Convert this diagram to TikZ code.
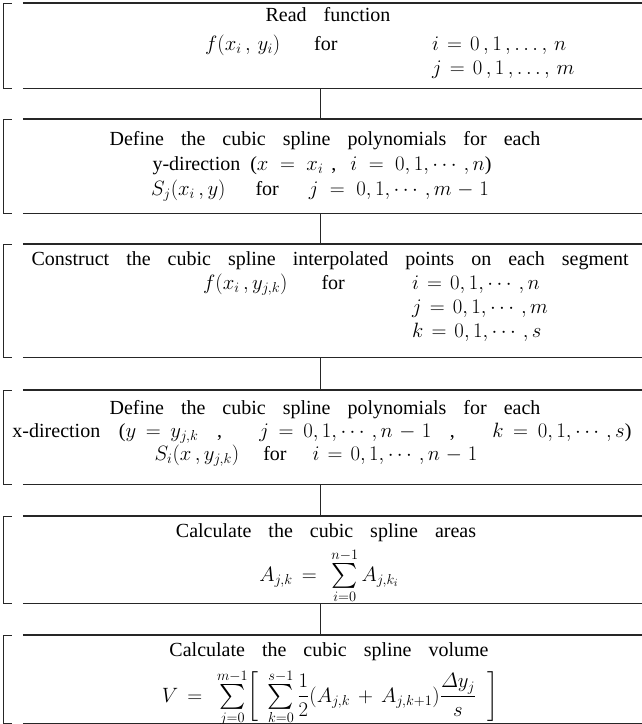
\documentclass[tikz,border=0pt]{standalone}
\usepackage{fontspec}
\setmainfont{Liberation Serif}
\usepackage{amsmath}
\usepackage{graphicx}
\newcommand\mybxframe[1]{%
  \draw[brk] ([xshift=8pt]#1.north west) -- (#1.north west) -- (#1.south west) -- ([xshift=8pt]#1.south west);
  \draw[hrule] ([xshift=19pt]#1.north west) -- ([xshift=30pt]#1.north east);
  \draw[hrule] ([xshift=19pt]#1.south west) -- ([xshift=30pt]#1.south east);}
\newcommand\mybigsum{\mathop{\vcenter{\hbox{\scalebox{1.2}{$\textstyle\sum$}}}}}
\newcommand\mytxtsetup{\fontsize{20}{24}\selectfont
  \spaceskip=0.85em plus 0.3em minus 0.1em\relax
  \thickmuskip=7mu plus 5mu\relax
  \medmuskip=5mu plus 2mu\relax}
\newcommand\myformsetup{\fontsize{22}{26}\selectfont
  \thickmuskip=8mu plus 5mu\relax
  \medmuskip=7mu plus 2mu\relax}
\newcommand\mybigmath[1]{{\fontsize{22}{26}\selectfont\thickmuskip=10mu\relax$#1$}}
\begin{document}
\begin{tikzpicture}[x=1pt,y=-1pt,
  txt/.style={inner sep=0pt,font=\mytxtsetup},
  form/.style={inner sep=0pt,font=\myformsetup},
  box/.style={draw=none,minimum width=632pt,inner sep=0pt,anchor=north},
  hrule/.style={line width=1.3pt,black!85},
  brk/.style={line width=0.9pt,black!85},
  conn/.style={line width=0.8pt,black!85}]
\useasboundingbox (0,0) rectangle (641,724);
% boxes
\node[box,minimum height=85pt] (b1) at (320,3) {};
\node[box,minimum height=94pt] (b2) at (320,119) {};
\node[box,minimum height=113pt] (b3) at (320,244) {};
\node[box,minimum height=94pt] (b4) at (320,390) {};
\node[box,minimum height=87pt] (b5) at (320,516) {};
\node[box,minimum height=88pt] (b6) at (320,635) {};
\mybxframe{b1}\mybxframe{b2}\mybxframe{b3}\mybxframe{b4}\mybxframe{b5}\mybxframe{b6}
% connectors
\draw[conn] (b1.south) -- (b2.north);
\draw[conn] (b2.south) -- (b3.north);
\draw[conn] (b3.south) -- (b4.north);
\draw[conn] (b4.south) -- (b5.north);
\draw[conn] (b5.south) -- (b6.north);
% box 1
\node[txt,anchor=base] (t1) at (328,21) {Read function};
\node[txt,anchor=base west] (t1a) at (205,50) {$f(x_i\,,\,y_i)$\hspace{34pt}for};
\node[txt,anchor=base west] (t1b) at (432,50) {$i=0\,,1\,,\ldots,\,n$};
\node[txt,anchor=base west] (t1c) at (432,74) {$j=0\,,1\,,\ldots,\,m$};
% box 2
\node[txt,anchor=base] (t2) at (325,145) {Define the cubic spline polynomials for each};
\node[txt,anchor=base] (t2a) at (322,170) {y-direction\hspace{10pt}(\mybigmath{x=x_i}\hspace{8pt},\hspace{14pt}\mybigmath{i=0,1,\cdots,n})};
\node[txt,anchor=base] (t2b) at (320,195) {\mybigmath{S_j(x_i\,,y)}\hspace{30pt}for\hspace{30pt}\mybigmath{j=0,1,\cdots,m-1}};
% box 3
\node[txt,anchor=base] (t3) at (330,265) {Construct the cubic spline interpolated points on each segment};
\node[txt,anchor=base west] (t3a) at (203,289) {$f(x_i\,,y_{j,k})$\hspace{34pt}for};
\node[txt,anchor=base west] (t3b) at (412,289) {$i=0,1,\cdots,n$};
\node[txt,anchor=base west] (t3c) at (412,313) {$j=0,1,\cdots,m$};
\node[txt,anchor=base west] (t3d) at (412,337) {$k=0,1,\cdots,s$};
% box 4
\node[txt,anchor=base] (t4) at (325,414) {Define the cubic spline polynomials for each};
\node[txt,anchor=base] (t4a) at (322,437) {\makebox[619pt][s]{x-direction ($y=y_{j,k}$\ ,\ \ $j=0,1,\cdots,n-1$\ ,\ \ $k=0,1,\cdots,s$)}};
\node[txt,anchor=base] (t4b) at (316,460) {$S_i(x\,,y_{j,k})$\hspace{24pt}for\hspace{26pt}$i=0,1,\cdots,n-1$};
% box 5
\node[txt,anchor=base] (t5) at (326,537) {Calculate the cubic spline areas};
\node[form,anchor=base] (t5a) at (329,581) {$A_{j,k}=\ \mybigsum\limits_{i=0}^{n-1}A_{j,k_i}$};
% box 6
\node[txt,anchor=base] (t6) at (329,656) {Calculate the cubic spline volume};
\node[form,anchor=base] (t6a) at (330,702) {$V=\ \mybigsum\limits_{j=0}^{m-1}\biggl[\;\mybigsum\limits_{k=0}^{s-1}\dfrac{1}{2}(A_{j,k}+A_{j,k+1})\dfrac{\varDelta y_j}{s}\ \ \biggr]$};
\end{tikzpicture}
\end{document}
